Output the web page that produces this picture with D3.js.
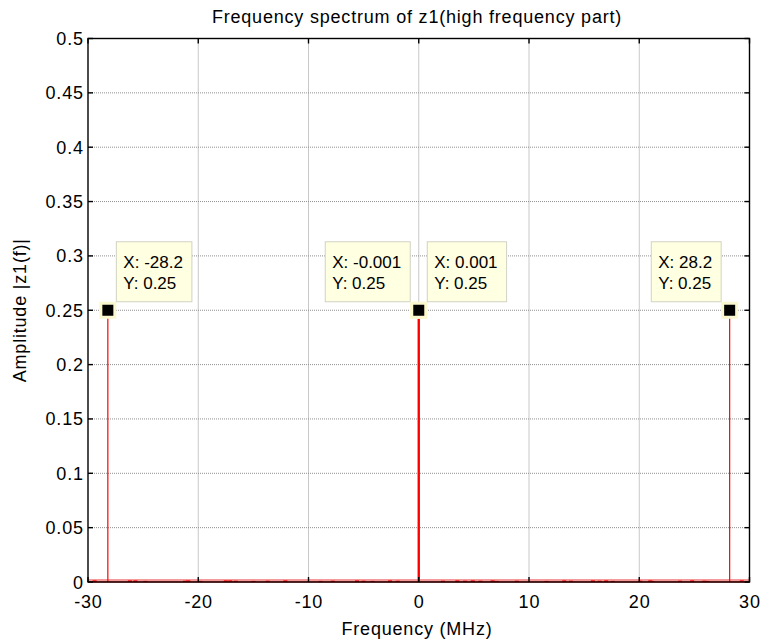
<!DOCTYPE html>
<html><head><meta charset="utf-8">
<script src="https://cdn.jsdelivr.net/npm/d3@7/dist/d3.min.js"></script>
<style>
html,body{margin:0;padding:0;background:#fff;}
text{font-family:"Liberation Sans",Arial,Helvetica,sans-serif;fill:#000;}
</style></head>
<body>
<svg id="chart" width="761" height="641"></svg>
<script>
// ---- data ----
const titleText = "Frequency spectrum of z1(high frequency part)";
const xLabel = "Frequency (MHz)";
const yLabel = "Amplitude |z1(f)|";
const xTicks = [-30, -20, -10, 0, 10, 20, 30];
const yTicks = [0, 0.05, 0.1, 0.15, 0.2, 0.25, 0.3, 0.35, 0.4, 0.45, 0.5];
const yTickLabels = ["0", "0.05", "0.1", "0.15", "0.2", "0.25", "0.3", "0.35", "0.4", "0.45", "0.5"];
// spectral peaks (data tips)
const peakFreq = [-28.2, -0.001, 0.001, 28.2];
const peakAmp = [0.25, 0.25, 0.25, 0.25];
const tipXText = ["X: -28.2", "X: -0.001", "X: 0.001", "X: 28.2"];
const tipYText = ["Y: 0.25", "Y: 0.25", "Y: 0.25", "Y: 0.25"];
const tipSide = ["right", "left", "right", "left"];
// small residual components along the baseline
const noiseFreq = [-29.4, -26.2, -25.7, -24.8, -21.2, -20.9, -19.8, -17.5, -17.1, -16.6, -15.0, -13.7, -12.1, -8.9, -7.8, -5.6, -5.0, -4.2, -2.6, -1.9, 2.2, 3.5, 4.2, 4.9, 5.6, 6.7, 7.1, 8.9, 11.6, 13.2, 13.8, 15.8, 16.4, 17.0, 17.6, 20.1, 21.0, 21.2, 23.7, 24.8, 25.9, 26.2, 29.3];
const noiseAmp = [0.0015, 0.0015, 0.0015, 0.001, 0.0012, 0.0015, 0.001, 0.0015, 0.0015, 0.0012, 0.001, 0.0012, 0.0015, 0.001, 0.0012, 0.0015, 0.0012, 0.001, 0.0015, 0.0012, 0.0012, 0.0015, 0.0012, 0.0015, 0.0012, 0.0015, 0.001, 0.0012, 0.001, 0.0015, 0.0012, 0.0015, 0.0012, 0.0015, 0.001, 0.0012, 0.0015, 0.001, 0.0012, 0.0015, 0.0012, 0.001, 0.0015];

// ---- layout ----
const svg = d3.select("#chart");
const L = 88, R = 749.5, T = 38.5, B = 582;
const FS = 18, LS = 0.8;
const x = d3.scaleLinear().domain([-30, 30]).range([L, R]);
const y = d3.scaleLinear().domain([0, 0.5]).range([B, T]);

// grid
const grid = svg.append("g");
grid.selectAll("line.gx").data(xTicks.slice(1, -1)).join("line")
  .attr("x1", d => x(d)).attr("x2", d => x(d)).attr("y1", T).attr("y2", B)
  .attr("stroke", "#909090").attr("stroke-width", 1).attr("stroke-dasharray", "1,1");
grid.selectAll("line.gy").data(yTicks.slice(1, -1)).join("line")
  .attr("x1", L).attr("x2", R).attr("y1", d => y(d)).attr("y2", d => y(d))
  .attr("stroke", "#909090").attr("stroke-width", 1).attr("stroke-dasharray", "1,1");

// baseline of spectrum
svg.append("line").attr("x1", x(-30)).attr("x2", x(30)).attr("y1", y(0) - 1.5).attr("y2", y(0) - 1.5)
  .attr("stroke", "#f59a9a").attr("stroke-width", 3);
svg.append("line").attr("x1", x(-30)).attr("x2", x(30)).attr("y1", y(0)).attr("y2", y(0))
  .attr("stroke", "#ff0000").attr("stroke-width", 1);
svg.selectAll("rect.noise").data(noiseFreq).join("rect")
  .attr("x", d => x(d) - 2).attr("width", 4)
  .attr("y", (d, i) => y(noiseAmp[i])).attr("height", (d, i) => y(0) - y(noiseAmp[i]))
  .attr("fill", "#ff0000");

// peaks
svg.selectAll("line.stem").data(peakFreq).join("line")
  .attr("x1", d => x(d)).attr("x2", d => x(d))
  .attr("y1", y(0)).attr("y2", (d, i) => y(peakAmp[i]))
  .attr("stroke", "#ff0000").attr("stroke-width", d => Math.abs(d) < 1 ? 2 : 1.2);

// axes box
const ax = svg.append("g").attr("stroke", "#000").attr("stroke-width", 1.4);
ax.append("rect").attr("x", L).attr("y", T).attr("width", R - L).attr("height", B - T).attr("fill", "none");
const tl = 5;
xTicks.forEach(t => {
  ax.append("line").attr("x1", x(t)).attr("x2", x(t)).attr("y1", B).attr("y2", B - tl);
  ax.append("line").attr("x1", x(t)).attr("x2", x(t)).attr("y1", T).attr("y2", T + tl);
});
yTicks.forEach(t => {
  ax.append("line").attr("x1", L).attr("x2", L + tl).attr("y1", y(t)).attr("y2", y(t));
  ax.append("line").attr("x1", R).attr("x2", R - tl).attr("y1", y(t)).attr("y2", y(t));
});

// tick labels
svg.selectAll("text.xt").data(xTicks).join("text")
  .attr("x", d => x(d) + LS / 2).attr("y", B + 26).attr("text-anchor", "middle")
  .attr("font-size", FS).attr("letter-spacing", LS).text(d => d);
svg.selectAll("text.yt").data(yTicks).join("text")
  .attr("x", L - 5 + LS).attr("y", d => y(d) + 6.5).attr("text-anchor", "end")
  .attr("font-size", FS).attr("letter-spacing", LS).text((d, i) => yTickLabels[i]);

// title & labels
svg.append("text").attr("x", 417).attr("y", 23).attr("text-anchor", "middle")
  .attr("font-size", FS).attr("letter-spacing", LS).text(titleText);
svg.append("text").attr("x", 417).attr("y", 635).attr("text-anchor", "middle")
  .attr("font-size", FS).attr("letter-spacing", LS).text(xLabel);
svg.append("text").attr("transform", `translate(26,${(T + B) / 2}) rotate(-90)`)
  .attr("text-anchor", "middle").attr("font-size", FS).attr("letter-spacing", LS).text(yLabel);

// data tips
const TFS = 17;
peakFreq.forEach((f, i) => {
  const px = x(f), py = y(peakAmp[i]);
  const ms = 8.5;
  const g = svg.append("g");
  const t1 = g.append("text").attr("font-size", TFS).text(tipXText[i]);
  const t2 = g.append("text").attr("font-size", TFS).text(tipYText[i]);
  const w = Math.max(t1.node().getComputedTextLength(), t2.node().getComputedTextLength()) + 16;
  const h = 60;
  const bx = tipSide[i] === "right" ? px + ms : px - ms - w;
  const by = py - ms - h;
  g.insert("rect", "text").attr("x", bx).attr("y", by).attr("width", w).attr("height", h)
    .attr("fill", "#ffffe1").attr("stroke", "#d2d2c4").attr("stroke-width", 1);
  t1.attr("x", bx + 7).attr("y", by + 26);
  t2.attr("x", bx + 7).attr("y", by + 47);
  svg.append("rect").attr("x", px - ms + 1.5).attr("y", py - ms + 1.5)
    .attr("width", 2 * ms - 3).attr("height", 2 * ms - 3)
    .attr("fill", "#000").attr("stroke", "#fbf7cf").attr("stroke-width", 3);
});
</script>
</body></html>
